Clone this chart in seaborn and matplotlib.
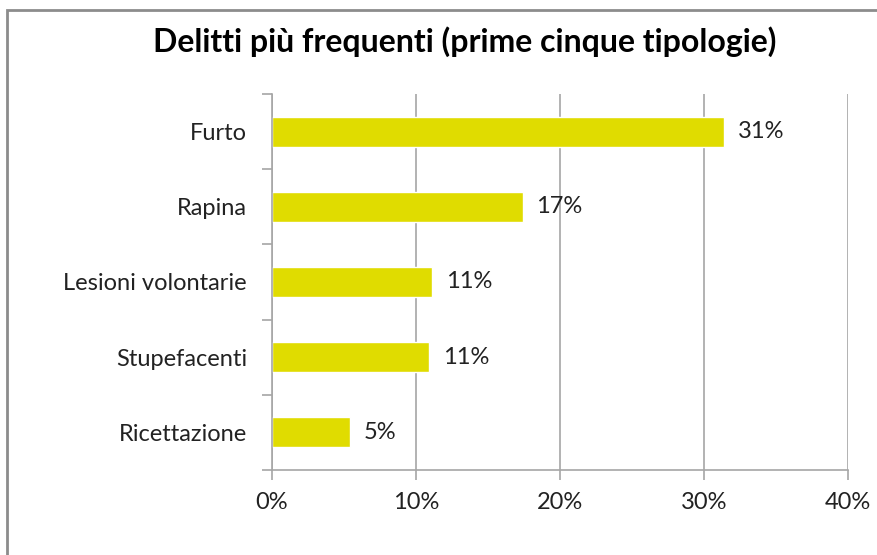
import pandas as pd
import numpy as np
import matplotlib.pyplot as plt
import seaborn as sns
from matplotlib.patches import Rectangle
from matplotlib.ticker import FuncFormatter, FixedLocator

# Data
categorie = ['Furto', 'Rapina', 'Lesioni volontarie', 'Stupefacenti', 'Ricettazione']
percentuali = [31.4, 17.4, 11.1, 10.9, 5.4]
x_ticks = [0, 10, 20, 30, 40]

data = pd.DataFrame({'Tipologia': categorie, 'Percentuale': percentuali})

sns.set_style('white')
plt.rcParams['font.family'] = ['Lato', 'DejaVu Sans']

text_col = '#222222'
grid_col = '#a6a6a6'
fs = 17

fig = plt.figure(figsize=(8.78, 5.55), dpi=100)
ax = fig.add_axes([272/878, 1 - 470/555, 576/878, 376/555])

sns.barplot(x='Percentuale', y='Tipologia', data=data, orient='h',
            color='#e0dc00', width=0.4, saturation=1, ax=ax)

ax.set_xlim(0, 40)
ax.set_ylim(4.5, -0.5)
ax.xaxis.set_major_locator(FixedLocator(x_ticks))
ax.xaxis.set_major_formatter(FuncFormatter(lambda v, p: f'{v:.0f}%'))
ax.set_axisbelow(True)
ax.grid(axis='x', color=grid_col, linewidth=1.2)
ax.grid(axis='y', visible=False)

for s in ['top', 'right']:
    ax.spines[s].set_visible(False)
for s in ['left', 'bottom']:
    ax.spines[s].set_color(grid_col)
    ax.spines[s].set_linewidth(1.2)

# category separators as minor ticks on the y axis
ax.yaxis.set_minor_locator(FixedLocator(np.arange(-0.5, 5, 1)))
ax.tick_params(axis='y', which='major', length=0, pad=18, labelsize=fs, labelcolor=text_col)
ax.tick_params(axis='y', which='minor', length=7, width=1.2, color=grid_col, left=True)
ax.tick_params(axis='x', which='major', length=7, width=1.2, color=grid_col, bottom=True,
               pad=9, labelsize=fs, labelcolor=text_col)
ax.set_xlabel('')
ax.set_ylabel('')

# data labels
for i, v in enumerate(percentuali):
    ax.annotate(f'{v:.0f}%', xy=(v, i), xytext=(10, 0), textcoords='offset points',
                va='center', ha='left', fontsize=fs, color=text_col)

fig.suptitle('Delitti più frequenti (prime cinque tipologie)', x=465/878, y=1 - 42/555,
             va='center', fontsize=23, fontweight='bold', color='black')

# chart border
fig.patches.append(Rectangle((7/878, -0.1), 1.2, 1 - 10/555 + 0.1, transform=fig.transFigure,
                             fill=False, edgecolor='#8c8c8c', linewidth=2))

fig.savefig('out.png', dpi=100)
